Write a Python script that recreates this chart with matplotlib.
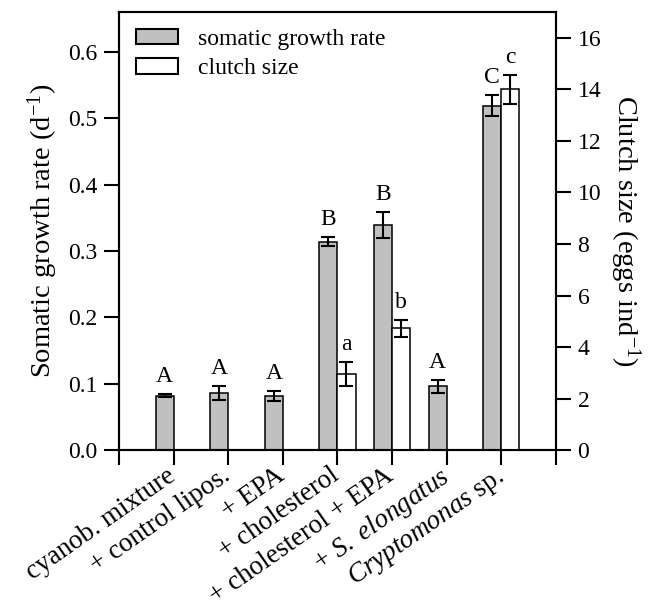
import numpy as np
import matplotlib
matplotlib.use('Agg')
import matplotlib.pyplot as plt
import matplotlib.transforms as mtransforms
from matplotlib.patches import Patch

plt.rcParams['font.family'] = 'Liberation Serif'
plt.rcParams['mathtext.fontset'] = 'custom'
plt.rcParams['mathtext.rm'] = 'Liberation Serif'
plt.rcParams['mathtext.it'] = 'Liberation Serif:italic'

# data
categories = ['cyanob. mixture', '+ control lipos.', '+ EPA', '+ cholesterol',
              '+ cholesterol + EPA', '+ $\\it{S.\\ elongatus}$', '$\\it{Cryptomonas}$ sp.']
growth = [0.082, 0.086, 0.082, 0.314, 0.339, 0.096, 0.519]
growth_err = [0.002, 0.010, 0.0075, 0.0065, 0.020, 0.010, 0.0155]
growth_letters = ['A', 'A', 'A', 'B', 'B', 'A', 'C']

clutch_pos = [4, 5, 7]
clutch = [2.95, 4.73, 14.0]
clutch_err = [0.47, 0.33, 0.57]
clutch_letters = ['a', 'b', 'c']

x = np.arange(1, len(categories) + 1)
w = 0.33

fig = plt.figure(figsize=(6.48, 6.09), dpi=100)
ax = fig.add_axes([0.1836, 0.261, 0.6744, 0.719])
ax2 = ax.twinx()

ax.bar(x - w / 2, growth, width=w, color='#c0c0c0', edgecolor='black', linewidth=1.1, zorder=2)
ax.errorbar(x - w / 2, growth, yerr=growth_err, fmt='none', ecolor='black',
            elinewidth=1.5, capsize=5, capthick=1.5, zorder=3)
for xi, yi, ei, t in zip(x - w / 2, growth, growth_err, growth_letters):
    ax.annotate(t, (xi, yi + ei), xytext=(0, 5), textcoords='offset points',
                ha='center', va='bottom', fontsize=17)

cx = np.array(clutch_pos) + w / 2
ax2.bar(cx, clutch, width=w, color='white', edgecolor='black', linewidth=1.1, zorder=2)
ax2.errorbar(cx, clutch, yerr=clutch_err, fmt='none', ecolor='black',
             elinewidth=1.5, capsize=5, capthick=1.5, zorder=3)
for xi, yi, ei, t in zip(cx, clutch, clutch_err, clutch_letters):
    ax2.annotate(t, (xi, yi + ei), xytext=(0, 5), textcoords='offset points',
                 ha='center', va='bottom', fontsize=17)

ax.set_xlim(0, 8)
ax.set_ylim(0, 0.66)
ax2.set_ylim(0, 17)

ax.set_yticks(np.arange(0, 0.61, 0.1))
ax.set_yticklabels(['%.1f' % v for v in np.arange(0, 0.61, 0.1)])
ax2.set_yticks(np.arange(0, 17, 2))

ax.set_xticks(np.arange(0, 9))
ax.set_xticklabels([''] + categories + [''], rotation=35, ha='right',
                   rotation_mode='anchor', fontsize=19.5)

ax.tick_params(axis='x', direction='out', length=10.5, width=1.5, pad=1)
ax.tick_params(axis='y', direction='out', length=10.5, width=1.5, labelsize=17, pad=5)
ax2.tick_params(axis='y', direction='out', length=10.5, width=1.5, labelsize=17, pad=5)

for a in (ax, ax2):
    for s in a.spines.values():
        s.set_linewidth(1.5)

ax.set_ylabel('Somatic growth rate (d$^{-1}$)', fontsize=20.5, labelpad=6)
ax2.set_ylabel('Clutch size (eggs ind$^{-1}$)', fontsize=20.5, rotation=270, labelpad=30)

handles = [Patch(facecolor='#c0c0c0', edgecolor='black', linewidth=1.5, label='somatic growth rate'),
           Patch(facecolor='white', edgecolor='black', linewidth=1.5, label='clutch size')]
ax2.legend(handles=handles, loc='upper left', bbox_to_anchor=(0.0, 1.0), frameon=False,
           fontsize=17, handlelength=1.8, handleheight=0.65, handletextpad=0.85,
           labelspacing=0.35, borderaxespad=0.3)

# nudge category labels so their ends sit at the ticks
shift = mtransforms.ScaledTranslation(-0.08, 0.03, fig.dpi_scale_trans)
for lab in ax.get_xticklabels():
    lab.set_transform(lab.get_transform() + shift)

fig.savefig('out.png', dpi=100)
